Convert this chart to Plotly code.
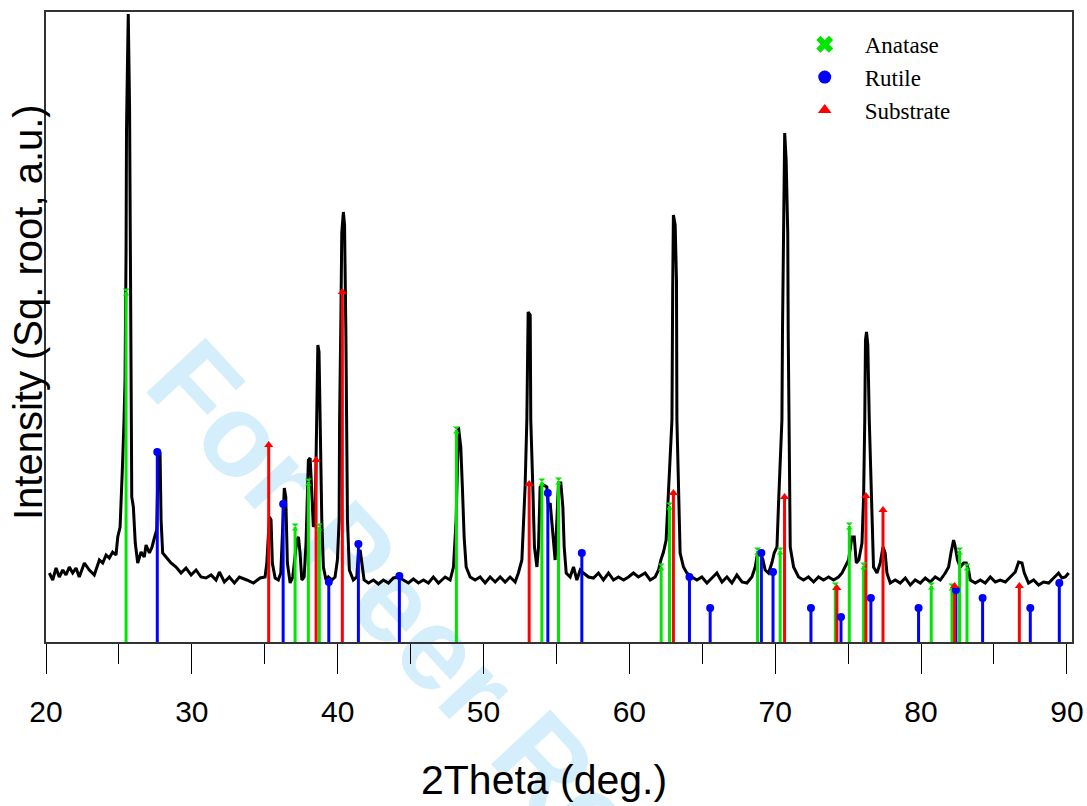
import plotly.graph_objects as go

# ---- measured XRD pattern (2theta in degrees, sqrt intensity in arbitrary units) ----
two_theta = [
    20.23, 20.46, 20.69, 20.91, 21.15, 21.37, 21.60, 21.83, 22.06, 22.28, 22.63, 22.97, 23.31, 23.66,
    23.89, 24.12, 24.34, 24.57, 24.80, 24.92, 25.08, 25.16, 25.26, 25.35, 25.42, 25.49, 25.52, 25.59,
    25.64, 25.73, 25.79, 25.84, 25.88, 25.99, 26.12, 26.29, 26.52, 26.74, 26.86, 27.09, 27.27, 27.43,
    27.59, 27.70, 27.82, 27.89, 28.00, 28.23, 28.57, 28.92, 29.26, 29.60, 29.95, 30.29, 30.63, 30.97,
    31.32, 31.66, 31.89, 32.23, 32.57, 32.92, 33.26, 33.77, 34.22, 34.68, 35.02, 35.14, 35.32, 35.43,
    35.52, 35.71, 35.93, 36.10, 36.24, 36.34, 36.44, 36.55, 36.74, 36.92, 37.20, 37.31, 37.42, 37.54,
    37.70, 37.83, 37.99, 38.11, 38.22, 38.33, 38.45, 38.57, 38.64, 38.72, 38.79, 38.91, 39.02, 39.20,
    39.36, 39.60, 39.82, 39.98, 40.10, 40.13, 40.21, 40.28, 40.39, 40.47, 40.56, 40.60, 40.67, 40.80,
    41.07, 41.31, 41.42, 41.54, 41.66, 41.81, 42.11, 42.45, 42.79, 43.13, 43.48, 43.82, 44.16, 44.51,
    44.85, 45.19, 45.54, 45.88, 46.22, 46.56, 46.91, 47.37, 47.71, 47.94, 48.12, 48.28, 48.44, 48.55,
    48.67, 48.81, 49.08, 49.42, 49.77, 50.11, 50.45, 50.80, 51.14, 51.48, 51.82, 52.17, 52.39, 52.63,
    52.85, 52.97, 53.06, 53.20, 53.24, 53.38, 53.49, 53.66, 53.77, 53.88, 54.11, 54.34, 54.45, 54.57,
    54.75, 54.91, 55.03, 55.14, 55.30, 55.44, 55.53, 55.67, 55.94, 56.17, 56.40, 56.63, 56.85, 57.20,
    57.54, 57.88, 58.22, 58.57, 58.91, 59.25, 59.60, 59.94, 60.28, 60.62, 61.08, 61.43, 61.77, 62.00,
    62.16, 62.34, 62.52, 62.64, 62.80, 62.92, 62.97, 63.02, 63.14, 63.23, 63.26, 63.37, 63.48, 63.71,
    63.94, 64.29, 64.63, 64.97, 65.32, 65.66, 66.00, 66.35, 66.69, 67.03, 67.37, 67.72, 68.06, 68.40,
    68.63, 68.79, 68.97, 69.16, 69.31, 69.54, 69.77, 69.93, 70.12, 70.23, 70.34, 70.46, 70.50, 70.58,
    70.65, 70.75, 70.86, 70.89, 70.93, 70.96, 71.03, 71.26, 71.60, 71.94, 72.28, 72.63, 72.97, 73.31,
    73.66, 74.00, 74.34, 74.58, 74.80, 75.03, 75.26, 75.42, 75.56, 75.73, 75.95, 76.06, 76.14, 76.19,
    76.26, 76.35, 76.45, 76.55, 76.63, 76.74, 76.98, 77.20, 77.39, 77.54, 77.66, 77.89, 78.23, 78.57,
    78.92, 79.26, 79.60, 79.95, 80.29, 80.63, 80.97, 81.32, 81.66, 81.89, 82.05, 82.23, 82.35, 82.50,
    82.69, 82.92, 83.10, 83.26, 83.37, 83.72, 84.06, 84.40, 84.75, 85.09, 85.43, 85.78, 86.12, 86.46,
    86.69, 86.92, 87.08, 87.37, 87.72, 88.06, 88.40, 88.75, 89.09, 89.43, 89.66, 89.89, 90.12,
]
intensity = [
    69, 62, 74, 65, 72, 67, 75, 69, 74, 65, 79, 72, 67, 82,
    79, 87, 84, 90, 87, 105, 115, 139, 182, 222, 262, 392, 512, 582,
    628, 535, 392, 222, 145, 135, 99, 79, 90, 85, 97, 89, 95, 104,
    112, 190, 189, 122, 89, 85, 79, 75, 69, 74, 67, 72, 65, 64,
    67, 62, 70, 60, 65, 59, 65, 62, 59, 64, 65, 79, 125, 122,
    79, 64, 62, 69, 122, 154, 145, 79, 59, 65, 102, 105, 89, 62,
    65, 99, 182, 184, 152, 115, 119, 222, 297, 290, 222, 122, 75, 62,
    65, 62, 65, 82, 122, 222, 312, 409, 430, 417, 312, 222, 122, 72,
    62, 65, 89, 92, 79, 62, 59, 62, 58, 62, 59, 64, 65, 62,
    59, 63, 59, 62, 59, 65, 59, 65, 62, 75, 122, 215, 195, 155,
    105, 75, 65, 62, 65, 59, 65, 60, 65, 60, 65, 60, 69, 82,
    155, 222, 330, 327, 222, 155, 95, 75, 95, 155, 157, 155, 135, 139,
    105, 82, 122, 159, 159, 135, 95, 69, 65, 75, 62, 72, 69, 65,
    64, 69, 62, 69, 62, 65, 62, 65, 69, 65, 69, 62, 65, 72,
    82, 90, 102, 139, 189, 222, 352, 427, 417, 362, 222, 155, 89, 75,
    69, 65, 62, 65, 59, 64, 69, 60, 65, 59, 67, 60, 59, 65,
    75, 89, 90, 82, 72, 69, 79, 89, 95, 139, 189, 222, 312, 395,
    509, 482, 409, 312, 222, 155, 95, 75, 65, 62, 65, 60, 65, 62,
    65, 62, 65, 69, 75, 82, 105, 105, 79, 82, 99, 145, 222, 302,
    310, 297, 222, 162, 112, 75, 69, 79, 95, 89, 69, 59, 62, 59,
    64, 57, 62, 59, 64, 60, 65, 62, 69, 75, 89, 102, 95, 82,
    75, 79, 79, 72, 62, 59, 62, 59, 65, 60, 62, 60, 65, 70,
    80, 79, 69, 59, 62, 57, 60, 59, 64, 69, 64, 65, 69,
]

# ---- reference patterns (stick positions and relative heights) ----
anatase_2theta = [25.49, 37.08, 37.99, 38.74, 48.14, 54.00, 55.14, 62.18, 62.75, 68.79,
                  70.34, 74.12, 75.08, 76.06, 80.70, 82.12, 82.64, 83.15]
anatase_height = [350, 115, 160, 115, 212, 160, 161, 75, 136, 91,
                  91, 56, 116, 76, 56, 55, 91, 75]

rutile_2theta = [27.63, 36.26, 39.39, 41.42, 44.23, 54.41, 56.74, 64.12, 65.54, 69.05,
                 69.85, 72.45, 74.51, 76.56, 79.83, 82.39, 84.22, 87.49, 89.48]
rutile_height = [190, 138, 60, 98, 66, 149, 89, 65, 34, 89,
                 70, 34, 25, 44, 34, 52, 44, 34, 59]

substrate_2theta = [35.27, 38.52, 40.32, 53.13, 63.02, 70.64, 74.23, 76.22, 77.39, 82.30, 86.74]
substrate_height = [197, 182, 350, 158, 149, 145, 54, 146, 132, 56, 56]

phase_names = ["Anatase", "Rutile", "Substrate"]

GREEN = "rgb(0,230,0)"
BLUE = "rgb(0,0,255)"
RED = "rgb(255,0,0)"


def stick_path(xs, hs):
    px, py = [], []
    for x, h in zip(xs, hs):
        px += [x, x, None]
        py += [0, h, None]
    return px, py


fig = go.Figure()

fig.add_trace(go.Scatter(x=two_theta, y=intensity, mode="lines",
                         line=dict(color="black", width=3), showlegend=False,
                         hoverinfo="skip"))

phases = [
    (anatase_2theta, anatase_height, GREEN, "hourglass", 7, "x", 15),
    (rutile_2theta, rutile_height, BLUE, "circle", 8, "circle", 13),
    (substrate_2theta, substrate_height, RED, "triangle-up", 8, "triangle-up", 12),
]

for (xs, hs, col, sym, sz, lsym, lsz), name in zip(phases, phase_names):
    sx, sy = stick_path(xs, hs)
    fig.add_trace(go.Scatter(x=sx, y=sy, mode="lines", line=dict(color=col, width=3),
                             showlegend=False, hoverinfo="skip"))
for (xs, hs, col, sym, sz, lsym, lsz), name in zip(phases, phase_names):
    fig.add_trace(go.Scatter(x=xs, y=hs, mode="markers",
                             marker=dict(symbol=sym, size=sz, color=col, line=dict(width=0)),
                             showlegend=False, name=name))
for (xs, hs, col, sym, sz, lsym, lsz), name in zip(phases, phase_names):
    fig.add_trace(go.Scatter(x=[None], y=[None], mode="markers", name=name,
                             marker=dict(symbol=lsym, size=lsz, color=col, line=dict(width=0))))

# watermark
fig.add_shape(type="line", xref="paper", yref="paper",
              x0=0.2827, y0=0.0317, x1=0.4815, y1=-0.3175,
              line=dict(color="rgba(0,0,0,0)", width=1), layer="below",
              label=dict(text="For Peer Review", textposition="middle",
                         font=dict(size=117, color="#d4eefb", family="Liberation Sans", weight="bold")))

# axis titles
fig.add_annotation(text="Intensity (Sq. root, a.u.)", xref="paper", yref="paper",
                   x=-0.0175, y=0.5238, xanchor="center", yanchor="middle",
                   textangle=-90, showarrow=False,
                   font=dict(size=40, family="Liberation Sans, Arial, sans-serif", color="black"))
fig.add_annotation(text="2Theta (deg.)", xref="paper", yref="paper",
                   x=0.4854, y=-0.219, xanchor="center", yanchor="middle",
                   showarrow=False,
                   font=dict(size=41, family="Liberation Sans, Arial, sans-serif", color="black"))

fig.update_layout(
    width=1087, height=806,
    margin=dict(l=46, r=15, t=12, b=164, autoexpand=False),
    paper_bgcolor="white", plot_bgcolor="rgba(0,0,0,0)",
    font=dict(family="Liberation Sans, Arial, sans-serif", color="black"),
    legend=dict(x=0.720, y=0.983, xanchor="left", yanchor="top",
                bgcolor="rgba(0,0,0,0)", itemwidth=70,
                font=dict(family="Liberation Serif, Times New Roman, serif", size=23, color="black")),
    xaxis=dict(range=[20, 90.35], tickvals=[20, 30, 40, 50, 60, 70, 80, 90],
               ticks="outside", ticklen=30, tickwidth=1, tickcolor="black",
               minor=dict(ticks="outside", ticklen=20, dtick=5, tick0=0, tickcolor="black", tickwidth=1),
               tickfont=dict(size=30), ticklabelstandoff=12, automargin=False,
               showgrid=False, zeroline=False, showline=True, mirror=True,
               linecolor="#333", linewidth=1.5),
    yaxis=dict(range=[0, 630], showticklabels=False, ticks="", showgrid=False, zeroline=False,
               showline=True, mirror=True, linecolor="#333", linewidth=1.5, automargin=False),
)

fig.write_html("out.html")
